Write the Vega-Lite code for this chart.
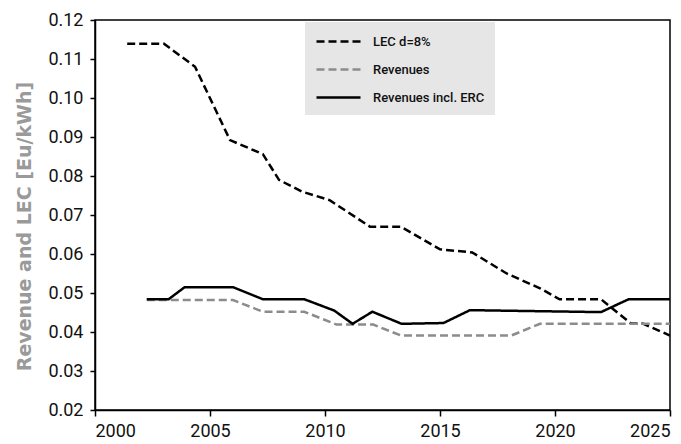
{
  "$schema": "https://vega.github.io/schema/vega-lite/v6.json",
  "width": 575,
  "height": 390,
  "autosize": {"type": "none"},
  "padding": {"left": 95, "top": 20, "right": 11, "bottom": 34},
  "background": "white",
  "config": {
    "view": {"stroke": "black", "strokeWidth": 1.5},
    "axis": {"labelFont": "Roboto", "labelFontSize": 18, "labelColor": "#111", "domainColor": "black", "tickColor": "black", "domainWidth": 1.5, "tickWidth": 1.5, "grid": false}
  },
  "data": {"values": [
    {"s": "LEC d=8%", "x": 2001.4, "y": 0.1139},
    {"s": "LEC d=8%", "x": 2003.0, "y": 0.1139},
    {"s": "LEC d=8%", "x": 2004.35, "y": 0.108},
    {"s": "LEC d=8%", "x": 2005.87, "y": 0.0892},
    {"s": "LEC d=8%", "x": 2007.3, "y": 0.0856},
    {"s": "LEC d=8%", "x": 2008.0, "y": 0.079},
    {"s": "LEC d=8%", "x": 2009.0, "y": 0.076},
    {"s": "LEC d=8%", "x": 2010.2, "y": 0.0738},
    {"s": "LEC d=8%", "x": 2011.96, "y": 0.067},
    {"s": "LEC d=8%", "x": 2013.3, "y": 0.067},
    {"s": "LEC d=8%", "x": 2015.0, "y": 0.0612},
    {"s": "LEC d=8%", "x": 2016.4, "y": 0.0604},
    {"s": "LEC d=8%", "x": 2017.9, "y": 0.055},
    {"s": "LEC d=8%", "x": 2019.35, "y": 0.0512},
    {"s": "LEC d=8%", "x": 2020.2, "y": 0.0484},
    {"s": "LEC d=8%", "x": 2022.0, "y": 0.0484},
    {"s": "LEC d=8%", "x": 2023.3, "y": 0.0422},
    {"s": "LEC d=8%", "x": 2023.8, "y": 0.0422},
    {"s": "LEC d=8%", "x": 2025.0, "y": 0.0391},
    {"s": "Revenues", "x": 2002.25, "y": 0.0482},
    {"s": "Revenues", "x": 2006.0, "y": 0.0482},
    {"s": "Revenues", "x": 2007.3, "y": 0.0452},
    {"s": "Revenues", "x": 2009.1, "y": 0.0452},
    {"s": "Revenues", "x": 2010.5, "y": 0.0419},
    {"s": "Revenues", "x": 2012.1, "y": 0.0419},
    {"s": "Revenues", "x": 2013.3, "y": 0.0391},
    {"s": "Revenues", "x": 2018.1, "y": 0.0391},
    {"s": "Revenues", "x": 2019.35, "y": 0.0421},
    {"s": "Revenues", "x": 2025.0, "y": 0.0421},
    {"s": "Revenues incl. ERC", "x": 2002.25, "y": 0.0484},
    {"s": "Revenues incl. ERC", "x": 2003.2, "y": 0.0484},
    {"s": "Revenues incl. ERC", "x": 2003.9, "y": 0.0515},
    {"s": "Revenues incl. ERC", "x": 2006.0, "y": 0.0515},
    {"s": "Revenues incl. ERC", "x": 2007.3, "y": 0.0484},
    {"s": "Revenues incl. ERC", "x": 2009.1, "y": 0.0484},
    {"s": "Revenues incl. ERC", "x": 2010.4, "y": 0.0455},
    {"s": "Revenues incl. ERC", "x": 2011.2, "y": 0.0421},
    {"s": "Revenues incl. ERC", "x": 2012.06, "y": 0.0452},
    {"s": "Revenues incl. ERC", "x": 2013.33, "y": 0.0421},
    {"s": "Revenues incl. ERC", "x": 2015.15, "y": 0.0423},
    {"s": "Revenues incl. ERC", "x": 2016.3, "y": 0.0456},
    {"s": "Revenues incl. ERC", "x": 2022.0, "y": 0.0451},
    {"s": "Revenues incl. ERC", "x": 2023.2, "y": 0.0484},
    {"s": "Revenues incl. ERC", "x": 2025.0, "y": 0.0484}
  ]},
  "mark": {"type": "line", "strokeWidth": 2.5, "clip": true},
  "encoding": {
    "x": {"field": "x", "type": "quantitative", "scale": {"domain": [2000, 2025], "nice": false, "zero": false},
      "axis": {"title": null, "values": [2000, 2005, 2010, 2015, 2020, 2025], "format": "d", "tickSize": 6, "labelPadding": 6}},
    "y": {"field": "y", "type": "quantitative", "scale": {"domain": [0.02, 0.12], "nice": false, "zero": false},
      "axis": {"title": "Revenue and LEC [Eu/kWh]", "titleFont": "DejaVu Sans", "titleFontWeight": "bold", "titleFontSize": 19, "titleColor": "#9a9a9a",
        "titleX": -61, "titleY": 206, "titleBaseline": "bottom", "titleAngle": 270,
        "values": [0.02, 0.03, 0.04, 0.05, 0.06, 0.07, 0.08, 0.09, 0.1, 0.11, 0.12], "format": ".2f", "tickSize": 5, "labelPadding": 7}},
    "color": {"field": "s", "type": "nominal", "sort": ["LEC d=8%", "Revenues", "Revenues incl. ERC"],
      "scale": {"domain": ["LEC d=8%", "Revenues", "Revenues incl. ERC"], "range": ["#000000", "#8c8c8c", "#000000"]},
      "legend": {"title": null, "orient": "none", "legendX": 210, "legendY": 2, "fillColor": "#e6e6e6", "padding": 10,
        "symbolType": "M-1,0H4.5", "symbolSize": 256, "symbolStrokeWidth": 2.5, "labelFont": "Roboto", "labelFontWeight": 500, "labelFontSize": 13, "labelColor": "#111", "rowPadding": 11, "labelOffset": 39}},
    "strokeDash": {"field": "s", "type": "nominal", "sort": ["LEC d=8%", "Revenues", "Revenues incl. ERC"],
      "scale": {"domain": ["LEC d=8%", "Revenues", "Revenues incl. ERC"], "range": [[8, 4], [8, 4], [1, 0]]},
      "legend": null}
  }
}
